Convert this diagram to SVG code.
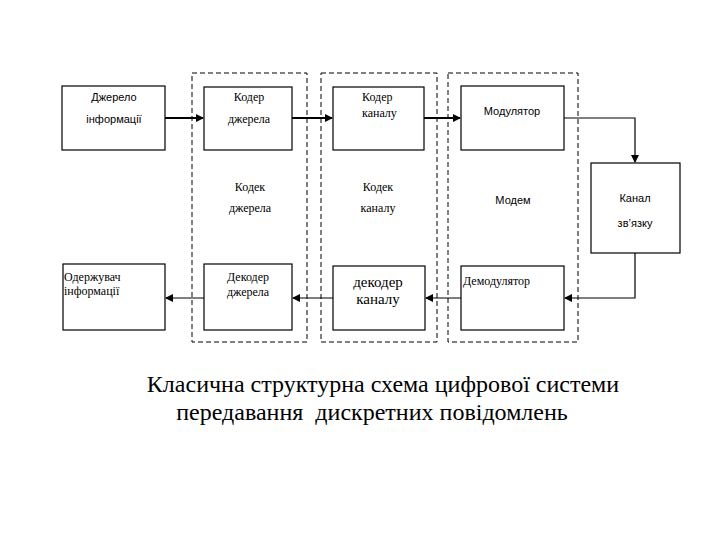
<svg xmlns="http://www.w3.org/2000/svg" width="720" height="540" viewBox="0 0 720 540">
<defs>
<marker id="ah" markerWidth="8" markerHeight="8" refX="7" refY="4" orient="auto" markerUnits="userSpaceOnUse">
<path d="M0,0 L8,4 L0,8 Z" fill="#000"/>
</marker>
<style>
.box{fill:#fff;stroke:#000;stroke-width:1.2}
.grp{fill:none;stroke:#000;stroke-width:1;stroke-dasharray:5,3}
.sans{font-family:"Liberation Sans",Arial,sans-serif;font-size:11px;fill:#000}
.serif{font-family:"Liberation Serif","Times New Roman",serif;font-size:12px;fill:#000}
.big{font-family:"Liberation Serif","Times New Roman",serif;font-size:15px;fill:#000}
.title{font-family:"Liberation Serif","Times New Roman",serif;font-size:24px;fill:#000}
.thick{stroke:#000;stroke-width:2;fill:none}
.thin{stroke:#000;stroke-width:1.2;fill:none}
</style>
</defs>
<rect width="720" height="540" fill="#fff"/>
<g id="groups">
<rect class="grp" x="192" y="73" width="115" height="269"/>
<rect class="grp" x="321" y="73" width="116" height="269"/>
<rect class="grp" x="448" y="73" width="130" height="269"/>
</g>
<g id="n-source">
<rect class="box" x="62" y="86" width="103" height="64"/>
<text class="sans" x="114" y="101" text-anchor="middle">Джерело</text>
<text class="sans" x="114" y="123" text-anchor="middle">інформації</text>
</g>
<g id="n-src-coder">
<rect class="box" x="204" y="87" width="88" height="63"/>
<text class="serif" x="249" y="101" text-anchor="middle">Кодер</text>
<text class="serif" x="249" y="123" text-anchor="middle">джерела</text>
</g>
<g id="n-ch-coder">
<rect class="box" x="333" y="87" width="91" height="63"/>
<text class="serif" x="362" y="101">Кодер</text>
<text class="serif" x="362" y="117">каналу</text>
</g>
<g id="n-modulator">
<rect class="box" x="461" y="86" width="103" height="64"/>
<text class="sans" x="512" y="115" text-anchor="middle">Модулятор</text>
</g>
<g id="n-codec-src">
<text class="serif" x="250" y="191" text-anchor="middle">Кодек</text>
<text class="serif" x="250" y="212" text-anchor="middle">джерела</text>
</g>
<g id="n-codec-ch">
<text class="serif" x="378" y="191" text-anchor="middle">Кодек</text>
<text class="serif" x="378" y="212" text-anchor="middle">каналу</text>
</g>
<g id="n-modem">
<text class="sans" x="513" y="204" text-anchor="middle">Модем</text>
</g>
<g id="n-channel">
<rect class="box" x="591" y="163" width="89" height="90"/>
<text class="sans" x="635" y="202" text-anchor="middle">Канал</text>
<text class="sans" x="635" y="227" text-anchor="middle">зв’язку</text>
</g>
<g id="n-receiver">
<rect class="box" x="63" y="264" width="102" height="66"/>
<text class="serif" x="64" y="281">Одержувач</text>
<text class="serif" x="64" y="295">інформації</text>
</g>
<g id="n-src-decoder">
<rect class="box" x="204" y="264" width="88" height="66"/>
<text class="serif" x="248" y="281" text-anchor="middle">Декодер</text>
<text class="serif" x="248" y="296" text-anchor="middle">джерела</text>
</g>
<g id="n-ch-decoder">
<rect class="box" x="333" y="266" width="92" height="64"/>
<text class="big" x="378" y="287" text-anchor="middle">декодер</text>
<text class="big" x="378" y="304" text-anchor="middle">каналу</text>
</g>
<g id="n-demod">
<rect class="box" x="461" y="266" width="103" height="64"/>
<text class="serif" x="463" y="285">Демодулятор</text>
</g>
<g id="connectors">
<line class="thick" x1="165" y1="118" x2="203" y2="118" marker-end="url(#ah)"/>
<line class="thick" x1="292" y1="118" x2="332" y2="118" marker-end="url(#ah)"/>
<line class="thick" x1="424" y1="118" x2="460" y2="118" marker-end="url(#ah)"/>
<polyline class="thin" points="564,118 635,118 635,162" marker-end="url(#ah)"/>
<polyline class="thin" points="635,253 635,298 565,298" marker-end="url(#ah)"/>
<line class="thin" x1="461" y1="298" x2="426" y2="298" marker-end="url(#ah)"/>
<line class="thin" x1="333" y1="298" x2="293" y2="298" marker-end="url(#ah)"/>
<line class="thin" x1="204" y1="298" x2="166" y2="298" marker-end="url(#ah)"/>
</g>
<g id="caption">
<text class="title" x="383" y="392" text-anchor="middle">Класична структурна схема цифрової системи</text>
<text class="title" x="372" y="420" text-anchor="middle" xml:space="preserve">передавання  дискретних повідомлень</text>
</g>
</svg>
